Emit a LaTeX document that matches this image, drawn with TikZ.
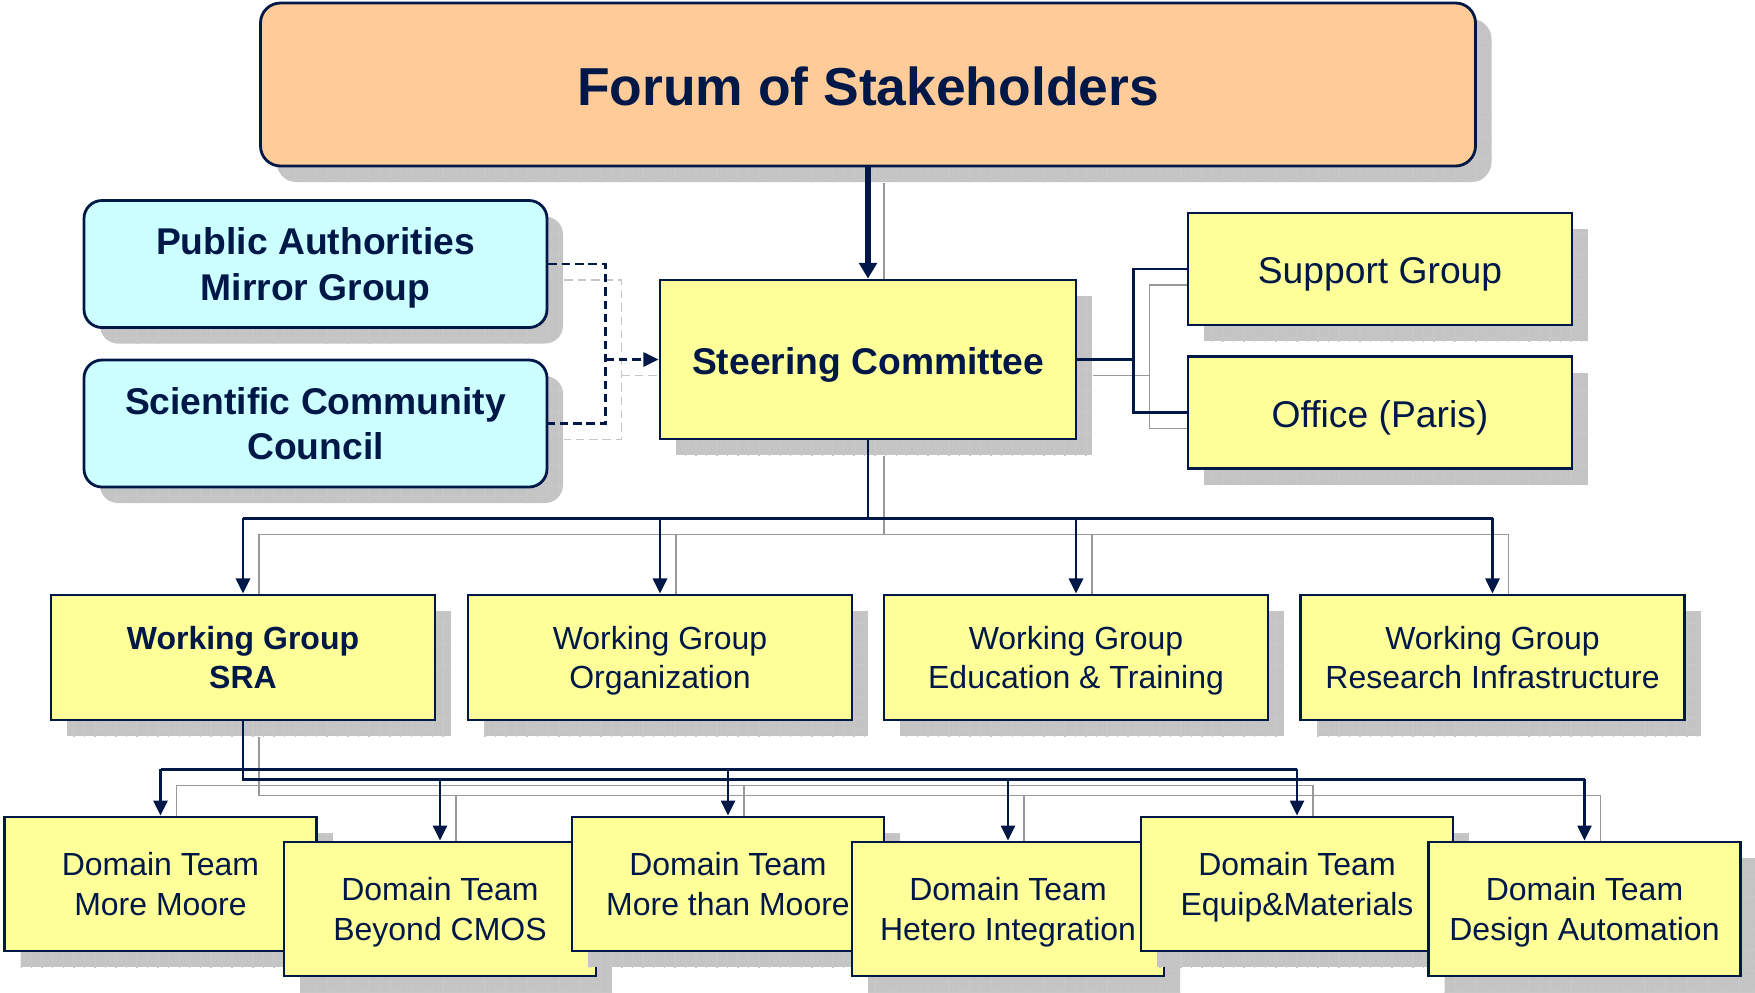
\documentclass[tikz,border=0pt]{standalone}
\usepackage{fontspec}
\setmainfont{Liberation Sans}
\definecolor{orgnavy}{RGB}{0,24,72}
\definecolor{orgyellow}{RGB}{255,255,153}
\definecolor{orgcyan}{RGB}{204,255,255}
\definecolor{orgpeach}{RGB}{255,204,153}
\definecolor{orgshade}{RGB}{196,196,196}
\usetikzlibrary{arrows.meta,positioning,shadows,backgrounds,patterns}
% first-line strut so that all boxes start their text alike
\newcommand\topstrut{\rule{0pt}{0.8em}}

\begin{document}
\begin{tikzpicture}[
  boxshade/.style={drop shadow={shadow xshift=0.16cm,shadow yshift=-0.16cm,fill=orgshade,opacity=1,
                   postaction={pattern=grid,pattern color=black!22}}},
  unit/.style={draw=orgnavy,line width=0.8pt,text=orgnavy,align=center,inner sep=0pt,boxshade,
               text depth=0pt,execute at begin node=\topstrut},
  wgbox/.style={unit,fill=orgyellow,minimum width=3.84cm,minimum height=1.25cm,font=\fontsize{9.1}{10.9}\selectfont},
  dtbox/.style={unit,fill=orgyellow,minimum width=3.12cm,minimum height=1.34cm,font=\fontsize{9.1}{11.2}\selectfont},
  sidebox/.style={unit,fill=orgyellow,minimum width=3.84cm,minimum height=1.12cm,font=\fontsize{10.6}{12.6}\selectfont},
  mirror/.style={unit,fill=orgcyan,rounded corners=0.18cm,minimum width=4.63cm,minimum height=1.27cm,
                 font=\fontsize{10.6}{13}\selectfont\bfseries},
  link/.style={draw=orgnavy,line width=0.7pt},
  arr/.style={link,-{Triangle[length=4.3pt,width=4pt]}},
  dashlink/.style={link,dash pattern=on 2.4pt off 1.4pt},
  shadelink/.style={draw=black!40,line width=0.5pt},
  shadedash/.style={draw=black!22,line width=0.5pt,dash pattern=on 2.4pt off 1.4pt},
]
  \useasboundingbox (0,0) rectangle (17.55,-9.92);

  % Forum and steering level
  \node[unit,fill=orgpeach,rounded corners=0.2cm,minimum width=12.15cm,minimum height=1.63cm,
        font=\fontsize{15.2}{18}\selectfont\bfseries] (forum) at (8.68,-0.845) {Forum of Stakeholders};
  \node[mirror] (pamg) at (3.155,-2.64) {Public Authorities\\Mirror Group};
  \node[mirror] (scc) at (3.155,-4.235) {Scientific Community\\Council};
  \node[unit,fill=orgyellow,minimum width=4.16cm,minimum height=1.59cm,
        font=\fontsize{10.6}{12.6}\selectfont\bfseries] (steer) at (8.68,-3.595) {Steering Committee};
  \node[sidebox] (support) at (13.8,-2.69) {Support Group};
  \node[sidebox] (office) at (13.8,-4.125) {Office (Paris)};

  % Working groups
  \node[wgbox,font=\fontsize{9.1}{10.9}\selectfont\bfseries] (wga) at (2.43,-6.575) {Working Group\\SRA};
  \node[wgbox] (wgb) at (6.6,-6.575) {Working Group\\Organization};
  \node[wgbox] (wgc) at (10.76,-6.575) {Working Group\\Education \& Training};
  \node[wgbox] (wgd) at (14.925,-6.575) {Working Group\\Research Infrastructure};

  % Domain teams (staggered, each one over the previous)
  \node[dtbox] (dta) at (1.605,-8.84) {Domain Team\\More Moore};
  \node[dtbox] (dtb) at (4.40,-9.09) {Domain Team\\Beyond CMOS};
  \node[dtbox] (dtc) at (7.28,-8.84) {Domain Team\\More than Moore};
  \node[dtbox] (dtd) at (10.08,-9.09) {Domain Team\\Hetero Integration};
  \node[dtbox] (dte) at (12.97,-8.84) {Domain Team\\Equip\&Materials};
  \node[dtbox] (dtf) at (15.845,-9.09) {Domain Team\\Design Automation};

  % junction points
  \coordinate (adv) at ([xshift=0.57cm]pamg.east);
  \coordinate (sup) at ([xshift=0.56cm]steer.east);
  \coordinate (wgbus) at ([yshift=-0.78cm]steer.south);
  \coordinate (dtup) at ([yshift=-0.48cm]wga.south);
  \coordinate (dtlow) at ([yshift=-0.58cm]wga.south);

  % shadows of the connectors
  \begin{scope}[on background layer]
  \begin{scope}[transform canvas={shift={(0.16,-0.16)}}]
    \draw[shadelink] (forum.south) -- (steer.north);
    \draw[shadedash] (pamg.east) -- (adv) |- (scc.east);
    \draw[shadedash] (adv |- steer.west) -- (steer.west);
    \draw[shadelink] (steer.east) -- (sup);
    \draw[shadelink] (support.west) -| (sup) |- (office.west);
    \draw[shadelink] (steer.south) -- (wgbus);
    \draw[shadelink] (wga |- wgbus) -- (wgd |- wgbus);
    \draw[shadelink] (wga |- wgbus) -- (wga.north);
    \draw[shadelink] (wgb |- wgbus) -- (wgb.north);
    \draw[shadelink] (wgc |- wgbus) -- (wgc.north);
    \draw[shadelink] (wgd |- wgbus) -- (wgd.north);
    \draw[shadelink] (wga.south) -- (dtlow) -- (dtf |- dtlow);
    \draw[shadelink] (dta |- dtup) -- (dte |- dtup);
    \draw[shadelink] (dta |- dtup) -- (dta.north);
    \draw[shadelink] (dtc |- dtup) -- (dtc.north);
    \draw[shadelink] (dte |- dtup) -- (dte.north);
    \draw[shadelink] (dtb |- dtlow) -- (dtb.north);
    \draw[shadelink] (dtd |- dtlow) -- (dtd.north);
    \draw[shadelink] (dtf |- dtlow) -- (dtf.north);
  \end{scope}
  \end{scope}

  % Forum to steering committee
  \draw[link,line width=1.5pt,-{Triangle[length=4.5pt,width=5pt]}] (forum.south) -- (steer.north);
  % advisory bodies
  \draw[dashlink] (pamg.east) -- (adv) |- (scc.east);
  \draw[arr,dashlink] (adv |- steer.west) -- (steer.west);
  % support and office
  \draw[link] (steer.east) -- (sup);
  \draw[link] (support.west) -| (sup) |- (office.west);
  % working groups
  \draw[link] (steer.south) -- (wgbus);
  \draw[link] (wga |- wgbus) -- (wgd |- wgbus);
  \draw[arr] (wga |- wgbus) -- (wga.north);
  \draw[arr] (wgb |- wgbus) -- (wgb.north);
  \draw[arr] (wgc |- wgbus) -- (wgc.north);
  \draw[arr] (wgd |- wgbus) -- (wgd.north);
  % domain teams
  \draw[link] (wga.south) -- (dtlow) -- (dtf |- dtlow);
  \draw[link] (dta |- dtup) -- (dte |- dtup);
  \draw[arr] (dta |- dtup) -- (dta.north);
  \draw[arr] (dtc |- dtup) -- (dtc.north);
  \draw[arr] (dte |- dtup) -- (dte.north);
  \draw[arr] (dtb |- dtlow) -- (dtb.north);
  \draw[arr] (dtd |- dtlow) -- (dtd.north);
  \draw[arr] (dtf |- dtlow) -- (dtf.north);
\end{tikzpicture}
\end{document}
